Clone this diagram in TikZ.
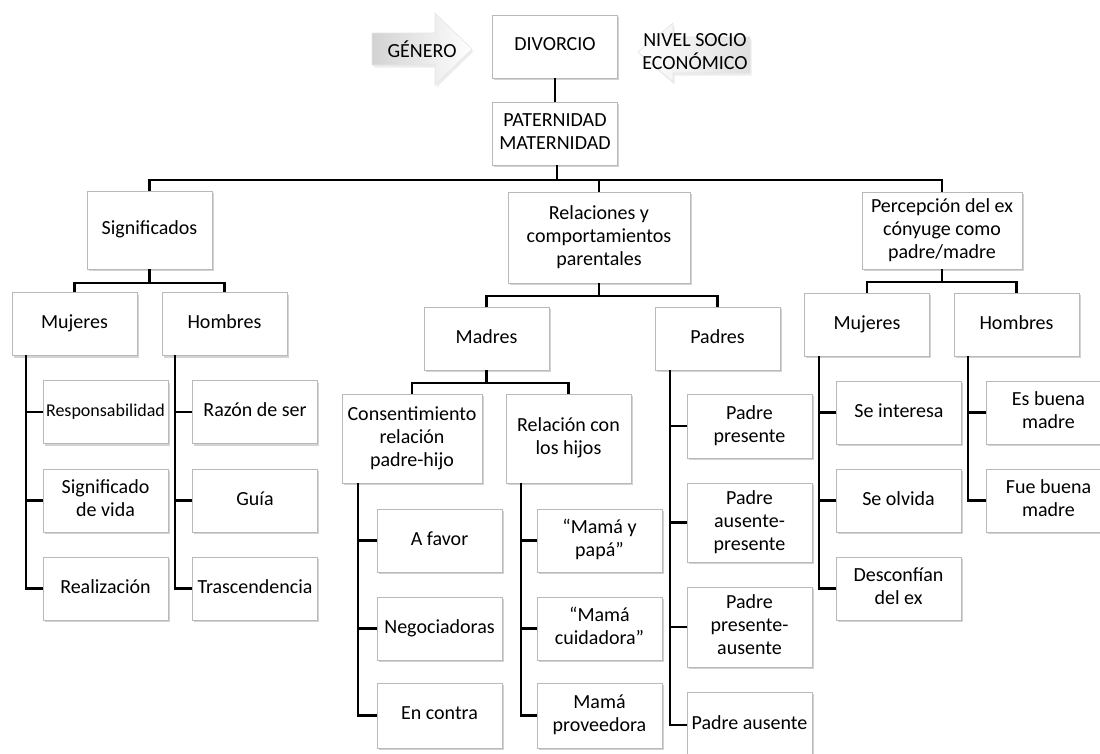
\documentclass[tikz,border=0pt]{standalone}
\usepackage{fontspec}
\setmainfont{Carlito}
\usetikzlibrary{shadows}
\newcommand\puntal{\rule[-4.5pt]{0pt}{16pt}}
\tikzset{
  caja/.style={draw=gray!55, line width=0.8pt, fill=white,
    minimum width=125pt, minimum height=63pt, inner sep=0pt, align=center,
    font=\fontsize{20}{23}\selectfont,
    execute at begin node=\puntal, execute at end node=\puntal,
    drop shadow={shadow xshift=1.5pt, shadow yshift=-2pt, opacity=.35, fill=gray}},
  conector/.style={line width=2.6pt, draw=black},
  flecha/.style={draw=gray!20, line width=0.6pt,
    drop shadow={shadow xshift=1.5pt, shadow yshift=-2.5pt, opacity=.15, fill=gray}},
  rotulo/.style={align=center, inner sep=0pt, font=\fontsize{20}{23}\selectfont}
}
\begin{document}
\begin{tikzpicture}[x=1pt, y=-1pt]
  \useasboundingbox (0,0) rectangle (1100,753);
  \clip (0,0) rectangle (1100,753);
  % flechas de arriba
  \shade[flecha, left color=gray!35, right color=white]
    (372,33) -- (435,33) -- (435,13) -- (472,49) -- (435,85) -- (435,65) -- (372,65) -- cycle;
  \shade[flecha, left color=white, right color=gray!25]
    (638,52) -- (673,23) -- (673,37) -- (750,37) -- (750,73) -- (673,73) -- (673,82) -- cycle;
  \node[rotulo] (genero) at (422,49) {GÉNERO};
  \node[rotulo] (nivel) at (695,52) {NIVEL SOCIO\\ECONÓMICO};
  % cajas
  \path[every node/.style={caja}]
    (555,46.5) node (divorcio) {DIVORCIO}
    (555,133.5) node (paternidad) {PATERNIDAD\\MATERNIDAD}
    (149.5,230) node[minimum height=78pt] (signif) {Significados}
    (599,237.5) node[minimum width=182pt, minimum height=91pt] (relac) {Relaciones y\\comportamientos\\parentales}
    (942,230.5) node[minimum width=160pt, minimum height=77pt] (percep) {Percepción del ex\\cónyuge como\\padre/madre}
    (74.5,324) node (mujS) {Mujeres}
    (224.5,324) node (homS) {Hombres}
    (105.5,412) node[font=\fontsize{18}{21}\selectfont] (resp) {Responsabilidad}
    (105.5,500.5) node (sigvida) {Significado\\de vida}
    (105.5,588.5) node (realiz) {Realización}
    (255,412) node (razon) {Razón de ser}
    (255,500.5) node (guia) {Guía}
    (255,588.5) node (trasc) {Trascendencia}
    (486.5,338.5) node (madres) {Madres}
    (717.5,338.5) node (padres) {Padres}
    (412,438.5) node[minimum width=140pt, minimum height=89pt] (consent) {Consentimiento\\relación\\padre-hijo}
    (568.5,438.5) node[minimum height=89pt] (relhijos) {Relación con\\los hijos}
    (439.5,540.5) node (afavor) {A favor}
    (439.5,628.5) node (negoc) {Negociadoras}
    (439.5,715.5) node[minimum height=65pt] (encontra) {En contra}
    (599.5,540.5) node (mamapapa) {“Mamá y\\papá”}
    (599.5,628.5) node (cuidadora) {“Mamá\\cuidadora”}
    (599.5,715.5) node[minimum height=65pt] (proveedora) {Mamá\\proveedora}
    (749.5,426) node[minimum height=64pt] (ppresente) {Padre\\presente}
    (749.5,522.5) node[minimum height=79pt] (pauspres) {Padre\\ausente-\\presente}
    (749.5,627) node[minimum height=80pt] (ppresaus) {Padre\\presente-\\ausente}
    (749.5,725) node[minimum height=66pt] (pausente) {Padre ausente}
    (867,324.5) node (mujP) {Mujeres}
    (1016.5,324.5) node (homP) {Hombres}
    (899,412.5) node (seinteresa) {Se interesa}
    (898.5,500.5) node (seolvida) {Se olvida}
    (898.5,588.5) node (desconf) {Desconfían\\del ex}
    (1048.5,412.5) node (esbuena) {Es buena\\madre}
    (1048.5,500.5) node (fuebuena) {Fue buena\\madre};
  % uniones
  \coordinate (bus) at (557,180);
  \coordinate (bS) at (149.5,283);
  \coordinate (bR) at (599,296);
  \coordinate (bM) at (486.5,383);
  \coordinate (bP) at (942,282);
  \coordinate (tMS) at (26,355);
  \coordinate (tHS) at (175,355);
  \coordinate (tC) at (358,483);
  \coordinate (tR) at (521,483);
  \coordinate (tP) at (670,370);
  \coordinate (tMP) at (819,356);
  \coordinate (tHP) at (968,356);
  \begin{scope}[conector]
    \draw (divorcio) -- (paternidad);
    \draw (paternidad.south -| bus) -- (bus);
    \draw (signif.north) |- (bus) -| (percep.north);
    \draw (relac.north) -- (relac.north |- bus);
    \draw (signif.south) -- (bS);
    \draw (mujS.north) |- (bS) -| (homS.north);
    \draw (relac.south) -- (bR);
    \draw (madres.north) |- (bR) -| (padres.north);
    \draw (madres.south) -- (bM);
    \draw (consent.north) |- (bM) -| (relhijos.north);
    \draw (percep.south) -- (bP);
    \draw (mujP.north) |- (bP) -| (homP.north);
    \draw (tMS) |- (realiz.west);
    \draw (resp.west) -- (resp.west -| tMS);
    \draw (sigvida.west) -- (sigvida.west -| tMS);
    \draw (tHS) |- (trasc.west);
    \draw (razon.west) -- (razon.west -| tHS);
    \draw (guia.west) -- (guia.west -| tHS);
    \draw (tC) |- (encontra.west);
    \draw (afavor.west) -- (afavor.west -| tC);
    \draw (negoc.west) -- (negoc.west -| tC);
    \draw (tR) |- (proveedora.west);
    \draw (mamapapa.west) -- (mamapapa.west -| tR);
    \draw (cuidadora.west) -- (cuidadora.west -| tR);
    \draw (tP) |- (pausente.west);
    \draw (ppresente.west) -- (ppresente.west -| tP);
    \draw (pauspres.west) -- (pauspres.west -| tP);
    \draw (ppresaus.west) -- (ppresaus.west -| tP);
    \draw (tMP) |- (desconf.west);
    \draw (seinteresa.west) -- (seinteresa.west -| tMP);
    \draw (seolvida.west) -- (seolvida.west -| tMP);
    \draw (tHP) |- (fuebuena.west);
    \draw (esbuena.west) -- (esbuena.west -| tHP);
  \end{scope}
\end{tikzpicture}
\end{document}
